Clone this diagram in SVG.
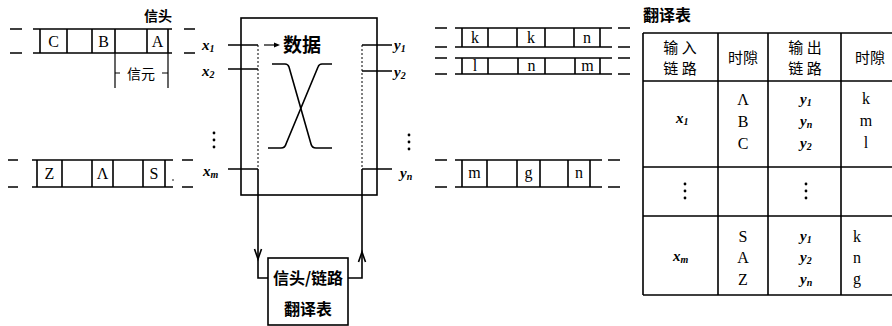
<svg xmlns="http://www.w3.org/2000/svg" width="892" height="326" viewBox="0 0 892 326">
<style>
.ln{stroke:#000;stroke-width:1.6;fill:none}
.th{stroke:#000;stroke-width:1.2;fill:none}
.dot{stroke:#000;stroke-width:1;fill:none;stroke-dasharray:2 2}
.cn{font-family:"Noto Sans CJK SC",sans-serif;fill:#000}
.b{font-weight:bold}
.lt{font-family:"Liberation Serif",serif;font-size:16px;fill:#000}
.it{font-family:"Liberation Serif",serif;font-style:italic;font-weight:bold;font-size:15px;fill:#000}
.sub{font-size:10px}
</style>
<rect width="892" height="326" fill="#fff"/>

<g id="input-stream-1">
<path class="ln" d="M10 29H22M33 29H172M184 29H195M10 53H22M33 53H172M184 53H195M40 29V53M67 29V53M92 29V53M115 29V53M147 29V53M168 29V53"/>
<text class="lt" x="53.500" y="47" text-anchor="middle">C</text>
<text class="lt" x="103.500" y="47" text-anchor="middle">B</text>
<text class="lt" x="157.500" y="47" text-anchor="middle">A</text>
<text class="cn b" x="158" y="21" font-size="14" text-anchor="middle">信头</text>
<path class="th" d="M115 53V88M168 53V88M115 73H120M162 73H168"/>
<text class="cn" x="141" y="79" font-size="14" text-anchor="middle">信元</text>
</g>

<g id="input-stream-m">
<path class="ln" d="M8 160H18M32 160H173M182 160H193M8 187H18M32 187H173M182 187H193M37 160V187M62 160V187M92 160V187M113 160V187M143 160V187M165 160V187"/>
<text class="lt" x="49.500" y="179" text-anchor="middle">Z</text>
<text class="lt" x="102.500" y="179" text-anchor="middle">Λ</text>
<text class="lt" x="154" y="179" text-anchor="middle">S</text>
<circle cx="173" cy="180" r="0.8" fill="#000"/>
</g>

<g id="input-labels">
<text class="it" x="202" y="50">x<tspan class="sub" dy="2">1</tspan></text>
<text class="it" x="202" y="76">x<tspan class="sub" dy="2">2</tspan></text>
<text class="it" x="203" y="176">x<tspan class="sub" dy="2">m</tspan></text>
<circle cx="214" cy="133" r="1.4" fill="#000"/>
<circle cx="214" cy="140" r="1.4" fill="#000"/>
<circle cx="214" cy="147" r="1.4" fill="#000"/>
</g>

<g id="switch">
<rect class="ln" x="241" y="18" width="136" height="177"/>
<path class="dot" d="M258 45V169M362 45V169"/>
<path class="ln" d="M228 45H258M228 69H258M228 169H258M362 45H392M362 71H392M362 169H392"/>
<path class="ln" d="M272 64H285Q288 64 289 67L311 144Q312 148 316 148H332"/>
<path class="ln" d="M332 64H322Q319 64 318 67L286 144Q285 148 281 148H268"/>
<path class="th" d="M264 45H276"/>
<path d="M280 45L274 42.500V47.500Z" fill="#000"/>
<text class="cn b" x="283" y="52" font-size="19">数据</text>
</g>

<g id="output-labels">
<text class="it" x="394" y="50">y<tspan class="sub" dy="2">1</tspan></text>
<text class="it" x="394" y="77">y<tspan class="sub" dy="2">2</tspan></text>
<text class="it" x="400" y="178">y<tspan class="sub" dy="2">n</tspan></text>
<circle cx="409" cy="135" r="1.4" fill="#000"/>
<circle cx="409" cy="142" r="1.4" fill="#000"/>
<circle cx="409" cy="149" r="1.4" fill="#000"/>
</g>

<g id="output-stream-1">
<path class="ln" d="M435 28H447M455 28H612M618 28H630M435 47H447M455 47H612M618 47H630M462 28V47M488 28V47M517 28V47M545 28V47M574 28V47M600 28V47"/>
<text class="lt" x="475" y="43" text-anchor="middle">k</text>
<text class="lt" x="531" y="43" text-anchor="middle">k</text>
<text class="lt" x="587" y="43" text-anchor="middle">n</text>
</g>

<g id="output-stream-2">
<path class="ln" d="M435 58H447M455 58H612M618 58H630M435 74H447M455 74H612M618 74H630M462 58V74M488 58V74M518 58V74M545 58V74M575 58V74M600 58V74"/>
<text class="lt" x="475" y="71" text-anchor="middle">l</text>
<text class="lt" x="531.500" y="71" text-anchor="middle">n</text>
<text class="lt" x="587.500" y="71" text-anchor="middle">m</text>
</g>

<g id="output-stream-n">
<path class="ln" d="M435 160H447M455 160H602M608 160H620M435 187H447M455 187H602M608 187H620M462 160V187M487 160V187M517 160V187M540 160V187M568 160V187M590 160V187"/>
<text class="lt" x="474.500" y="178" text-anchor="middle">m</text>
<text class="lt" x="528.500" y="178" text-anchor="middle">g</text>
<text class="lt" x="579" y="178" text-anchor="middle">n</text>
</g>

<g id="translation-box">
<rect class="ln" x="268" y="258" width="80" height="67"/>
<text class="cn b" x="308" y="284" font-size="16" text-anchor="middle">信头/链路</text>
<text class="cn b" x="308" y="315" font-size="16" text-anchor="middle">翻译表</text>
</g>

<g id="connectors">
<path class="ln" d="M258 169V278H268"/>
<path class="ln" d="M348 278H362V169"/>
<path class="ln" d="M254.500 249L258 259L261.500 249"/>
<path class="ln" d="M358.500 262L362 252L365.500 262"/>
</g>

<g id="table">
<text class="cn b" x="643" y="21" font-size="16">翻译表</text>
<path class="ln" d="M643 33H892M643 81H892M643 167H892M643 216H892M643 295H892M643 33V295M718 33V295M768 33V295M841 33V295"/>
<text class="cn" x="680" y="53" font-size="15" text-anchor="middle">输 入</text>
<text class="cn" x="680" y="74" font-size="15" text-anchor="middle">链 路</text>
<text class="cn" x="743" y="63" font-size="15" text-anchor="middle">时隙</text>
<text class="cn" x="805" y="53" font-size="15" text-anchor="middle">输 出</text>
<text class="cn" x="805" y="74" font-size="15" text-anchor="middle">链 路</text>
<text class="cn" x="870" y="63" font-size="15" text-anchor="middle">时隙</text>

<text class="it" x="676" y="123">x<tspan class="sub" dy="2">1</tspan></text>
<text class="lt" x="743" y="105" text-anchor="middle">Λ</text>
<text class="lt" x="743" y="127" text-anchor="middle">B</text>
<text class="lt" x="743" y="149" text-anchor="middle">C</text>
<text class="it" x="800" y="104">y<tspan class="sub" dy="2">1</tspan></text>
<text class="it" x="800" y="126">y<tspan class="sub" dy="2">n</tspan></text>
<text class="it" x="800" y="148">y<tspan class="sub" dy="2">2</tspan></text>
<text class="lt" x="866" y="104" text-anchor="middle">k</text>
<text class="lt" x="866" y="126" text-anchor="middle">m</text>
<text class="lt" x="866" y="148" text-anchor="middle">l</text>

<circle cx="685" cy="184" r="1.4" fill="#000"/>
<circle cx="685" cy="191" r="1.4" fill="#000"/>
<circle cx="685" cy="198" r="1.4" fill="#000"/>
<circle cx="806" cy="184" r="1.4" fill="#000"/>
<circle cx="806" cy="191" r="1.4" fill="#000"/>
<circle cx="806" cy="198" r="1.4" fill="#000"/>

<text class="it" x="673" y="261">x<tspan class="sub" dy="2">m</tspan></text>
<text class="lt" x="743" y="242" text-anchor="middle">S</text>
<text class="lt" x="743" y="263" text-anchor="middle">A</text>
<text class="lt" x="743" y="285" text-anchor="middle">Z</text>
<text class="it" x="800" y="241">y<tspan class="sub" dy="2">1</tspan></text>
<text class="it" x="800" y="262">y<tspan class="sub" dy="2">2</tspan></text>
<text class="it" x="800" y="284">y<tspan class="sub" dy="2">n</tspan></text>
<text class="lt" x="853" y="242">k</text>
<text class="lt" x="853" y="263">n</text>
<text class="lt" x="853" y="284">g</text>
</g>
</svg>
